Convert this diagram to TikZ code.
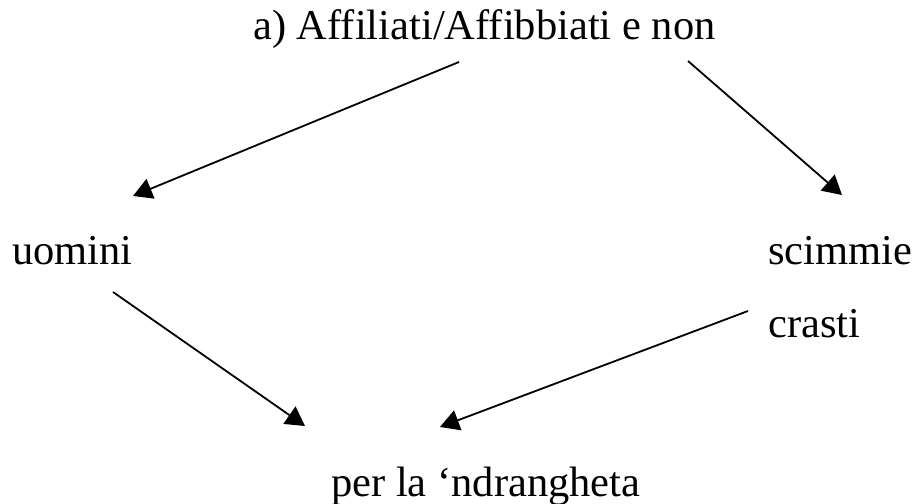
\documentclass[tikz,border=0pt]{standalone}
\usepackage{fontspec}
\setmainfont{Liberation Serif}
\usetikzlibrary{arrows.meta}

\begin{document}
\begin{tikzpicture}[x=1bp, y=-1bp,
        word/.style={anchor=base west, inner sep=0pt, font=\fontsize{42.5bp}{50bp}\selectfont},
        arr/.style={-{Triangle[length=19bp, width=21bp]}, line width=1.8bp}]
            \useasboundingbox (0,0) rectangle (914,504);
            \node[word] (affiliati) at (253,40) {a) Affiliati/Affibbiati e non};
            \node[word] (uomini) at (12,265) {uomini};
            \node[word] (scimmie) at (768,265) {scimmie};
            \node[word] (crasti) at (768,338) {crasti};
            \node[word] (ndrangheta) at (331,496) {per la ‘ndrangheta};

            \coordinate (affL) at (459,62);
            \coordinate (affR) at (688,61);
            \coordinate (uomIn) at (133,196);
            \coordinate (scimIn) at (842,195);
            \coordinate (uomOut) at (113,292);
            \coordinate (crasOut) at (748,311);
            \coordinate (ndrL) at (305,426);
            \coordinate (ndrR) at (440,427);

            \draw[arr] (affL) -- (uomIn);
            \draw[arr] (affR) -- (scimIn);
            \draw[arr] (uomOut) -- (ndrL);
            \draw[arr] (crasOut) -- (ndrR);
        \end{tikzpicture}
\end{document}
